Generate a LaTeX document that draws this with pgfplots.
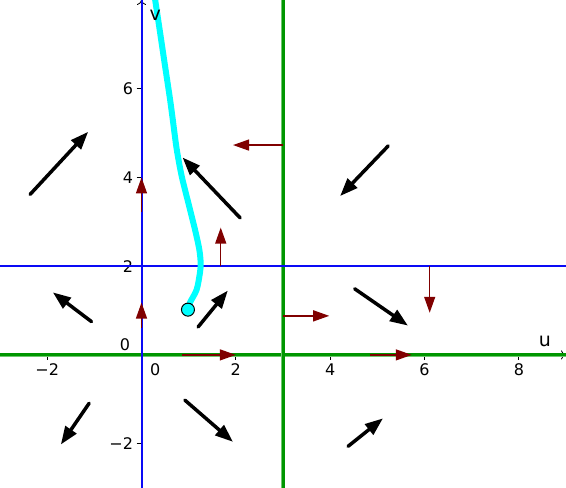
\documentclass[border=0pt]{standalone}
\usepackage{pgfplots}
\pgfplotsset{compat=1.18}
\usepackage{pgfplotstable}
\usepackage{fontspec}
\setmainfont{DejaVu Sans}
\usetikzlibrary{arrows.meta}

\definecolor{ggreen}{RGB}{0,150,0}
\definecolor{lgreen}{RGB}{110,200,110}
\definecolor{gblue}{RGB}{10,10,245}
\definecolor{dred}{RGB}{128,0,0}
\definecolor{gcyan}{RGB}{0,255,255}

% direction field (black)
\pgfplotstableread{
x     y     du     dv
-2.36  3.62  1.23  1.41
 2.09  3.09 -1.22  1.36
 5.23  4.71 -1.02 -1.13
-1.06  0.75 -0.82  0.66
 1.20  0.63  0.63  0.82
 4.52  1.49  1.13 -0.83
-1.11 -1.09 -0.60 -0.93
 0.92 -1.02  1.02 -0.94
 4.38 -2.06  0.74  0.63
}\fieldarrows

% vectors on the nullclines (dark red)
\pgfplotstableread{
x     y     du     dv
 0.00  3.21  0.00  0.79
 0.00  0.61  0.00  0.57
 1.68  2.00  0.00  0.87
 3.00  4.73 -1.06  0.00
 3.00  0.88  0.98  0.00
 6.11  2.00  0.00 -1.05
 0.85  0.00  1.15  0.00
 4.84  0.00  0.89  0.00
}\nullarrows

% trajectory through (1,1)
\pgfplotstableread{
x     y
0.985 1.02
1.028 1.18
1.169 1.47
1.239 1.85
1.254 2.07
1.225 2.38
1.133 2.83
0.992 3.43
0.852 4.03
0.746 4.64
0.661 5.32
0.604 5.77
0.498 6.52
0.392 7.28
0.286 8.03
0.250 8.30
}\trajectory

\begin{document}
\begin{tikzpicture}
\begin{axis}[
  scale only axis,
  width=566pt, height=488pt,
  xmin=-3, xmax=9, ymin=-3, ymax=8,
  axis lines=middle,
  axis line style={black, line width=0.8pt, -{To[length=5pt,width=9pt]}},
  xtick={-2,2,4,6,8}, xticklabels={−2,2,4,6,8},
  ytick={-2,2,4,6}, yticklabels={−2,2,4,6},
  tick style={black, line width=0.8pt},
  major tick length=5pt,
  xtick align=outside, ytick align=outside,
  every tick label/.append style={font=\fontsize{16}{18}\selectfont},
  clip=true,
]
  % v-nullclines (green)
  \addplot[lgreen, line width=4.6pt] coordinates {(-3,0) (9,0)};
  \addplot[ggreen, line width=3pt] coordinates {(-3,0) (9,0)};
  \addplot[lgreen, line width=4.6pt] coordinates {(3,-3) (3,8)};
  \addplot[ggreen, line width=3pt] coordinates {(3,-3) (3,8)};
  % u-nullclines (blue)
  \addplot[gblue, line width=2pt] coordinates {(0,-3) (0,8)};
  \addplot[gblue, line width=2pt] coordinates {(-3,2) (9,2)};
  % trajectory
  \addplot[gcyan, line width=6pt, smooth] table[x=x, y=y] {\trajectory};
  % nullcline vectors
  \addplot[dred, line width=1.3pt,
    quiver={u=\thisrow{du}, v=\thisrow{dv}},
    -{Triangle[length=16pt, width=11pt]}]
    table[x=x, y=y] {\nullarrows};
  % direction field
  \addplot[black, line width=3.5pt, line cap=round,
    quiver={u=\thisrow{du}, v=\thisrow{dv}},
    -{Triangle[length=18pt, width=13pt]}]
    table[x=x, y=y] {\fieldarrows};
  % initial point
  \addplot[only marks, mark=*, mark size=6.5pt,
    mark options={fill=gcyan, draw=black, line width=1pt}]
    coordinates {(0.985,1.02)};

  \node[font=\fontsize{16}{18}\selectfont] at (axis cs:-0.35,0.24) {0};
  \node[font=\fontsize{16}{18}\selectfont] at (axis cs:0.29,-0.34) {0};
  \node[font=\fontsize{19}{22}\selectfont] at (axis cs:8.55,0.30) {u};
  \node[font=\fontsize{19}{22}\selectfont] at (axis cs:0.29,7.65) {v};

  \coordinate (SW) at (rel axis cs:0,0);
  \coordinate (NE) at (rel axis cs:1,1);
\end{axis}
\pgfresetboundingbox
\useasboundingbox (SW) rectangle (NE);
\end{tikzpicture}
\end{document}
